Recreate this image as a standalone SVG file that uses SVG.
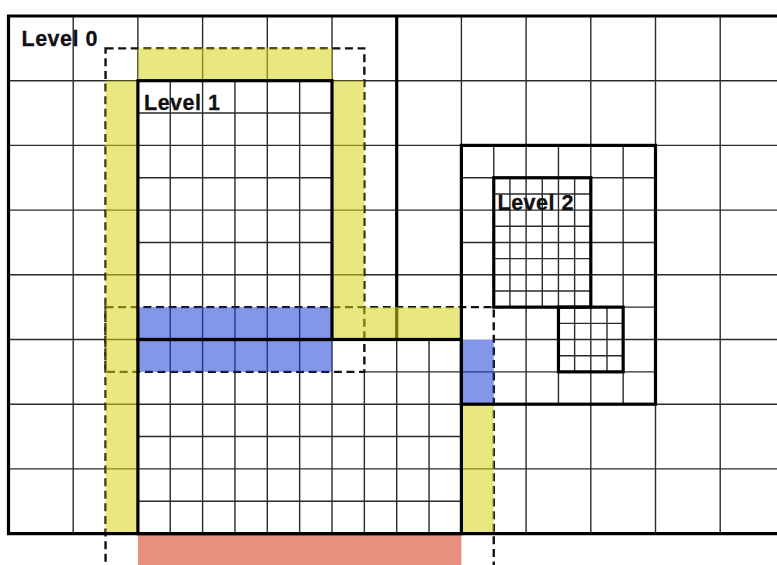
<svg xmlns="http://www.w3.org/2000/svg" width="777" height="565" viewBox="0 0 777 565">
<style>
.thin{stroke:#2a2a2a;stroke-width:1.4;fill:none}
.thick{stroke:#000;stroke-width:3.2;fill:none}
.dash{stroke:#111;stroke-width:2.4;fill:none;stroke-dasharray:8 4.6}
.yel{fill:#D7D318;fill-opacity:0.55}
.blu{fill:#1D40D3;fill-opacity:0.55}
.red{fill:#E98F80}
.lbl{font-family:"Liberation Sans",Arial,Helvetica,sans-serif;font-weight:bold;font-size:21.5px;letter-spacing:0.5px;fill:#111;stroke:#111;stroke-width:0.3}
</style>
<rect width="777" height="565" fill="#fff"/>
<g id="level0-grid" class="thin">
<path d="M73.2 16V533.6M137.9 16V533.6M202.6 16V533.6M267.3 16V533.6M332 16V533.6M396.7 16V533.6M461.4 16V533.6M526.1 16V533.6M590.8 16V533.6M655.5 16V533.6M720.2 16V533.6"/>
<path d="M8.5 80.7H777M8.5 145.4H777M8.5 210.1H777M8.5 274.8H777M8.5 339.5H461.4M493.75 339.5H777M8.5 404.2H777M8.5 468.9H777"/>
</g>
<g id="level1-box-a-grid" class="thin">
<path d="M170.25 80.7V339.5M234.95 80.7V339.5M299.65 80.7V339.5"/>
<path d="M137.9 113.05H332M137.9 177.75H332M137.9 242.45H332"/>
</g>
<g id="level1-box-b-grid" class="thin">
<path d="M170.25 339.5V533.6M234.95 339.5V533.6M299.65 339.5V533.6M364.35 371.85V533.6M429.05 339.5V533.6"/>
<path d="M364.35 371.85H461.4M137.9 436.55H461.4M137.9 501.25H461.4"/>
</g>
<g id="level1-box-c-grid" class="thin">
<path d="M493.75 145.4V307.15M558.45 145.4V404.2M623.15 145.4V404.2"/>
<path d="M461.4 177.75H655.5M461.4 242.45H655.5M493.75 307.15H655.5M461.4 371.85H655.5"/>
</g>
<g id="level2-box-a-grid" class="thin">
<path d="M509.925 177.75V307.15M542.275 177.75V307.15M574.625 177.75V307.15"/>
<path d="M493.75 193.925H590.8M493.75 226.275H590.8M493.75 258.625H590.8M493.75 290.975H590.8"/>
</g>
<g id="level2-box-b-grid" class="thin">
<path d="M574.625 307.15V371.85M606.975 307.15V371.85"/>
<path d="M558.45 323.325H623.15M558.45 355.675H623.15"/>
</g>
<g id="level0-divider">
<path class="thick" d="M396.7 16V339.5"/>
</g>
<g id="ghost-regions">
<rect class="dash" x="105.55" y="48.35" width="258.8" height="323.5"/>
<rect class="dash" x="105.55" y="307.15" width="388.2" height="262"/>
</g>
<g id="ghost-fills">
<rect class="yel" x="137.9" y="48.35" width="194.1" height="32.35"/>
<rect class="yel" x="105.55" y="80.7" width="32.35" height="452.9"/>
<rect class="yel" x="332" y="80.7" width="32.35" height="226.45"/>
<rect class="yel" x="332" y="307.15" width="129.4" height="32.35"/>
<rect class="yel" x="461.4" y="404.2" width="32.35" height="129.4"/>
<rect class="blu" x="137.9" y="307.15" width="194.1" height="64.7"/>
<rect class="blu" x="461.4" y="339.5" width="32.35" height="64.7"/>
<rect class="red" x="137.9" y="533.6" width="323.5" height="33"/>
</g>
<g id="level0-border">
<path class="thick" d="M777 16H8.5V533.6H777"/>
</g>
<g id="level1-box-a">
<rect class="thick" x="137.9" y="80.7" width="194.1" height="258.8"/>
</g>
<g id="level1-box-b">
<rect class="thick" x="137.9" y="339.5" width="323.5" height="194.1"/>
</g>
<g id="level1-box-c">
<rect class="thick" x="461.4" y="145.4" width="194.1" height="258.8"/>
</g>
<g id="level2-box-a">
<rect class="thick" x="493.75" y="177.75" width="97.05" height="129.4"/>
</g>
<g id="level2-box-b">
<rect class="thick" x="558.45" y="307.15" width="64.7" height="64.7"/>
</g>
<g id="labels">
<text class="lbl" x="21.5" y="46">Level 0</text>
<text class="lbl" x="144" y="110">Level 1</text>
<text class="lbl" x="497.5" y="210">Level 2</text>
</g>
</svg>
